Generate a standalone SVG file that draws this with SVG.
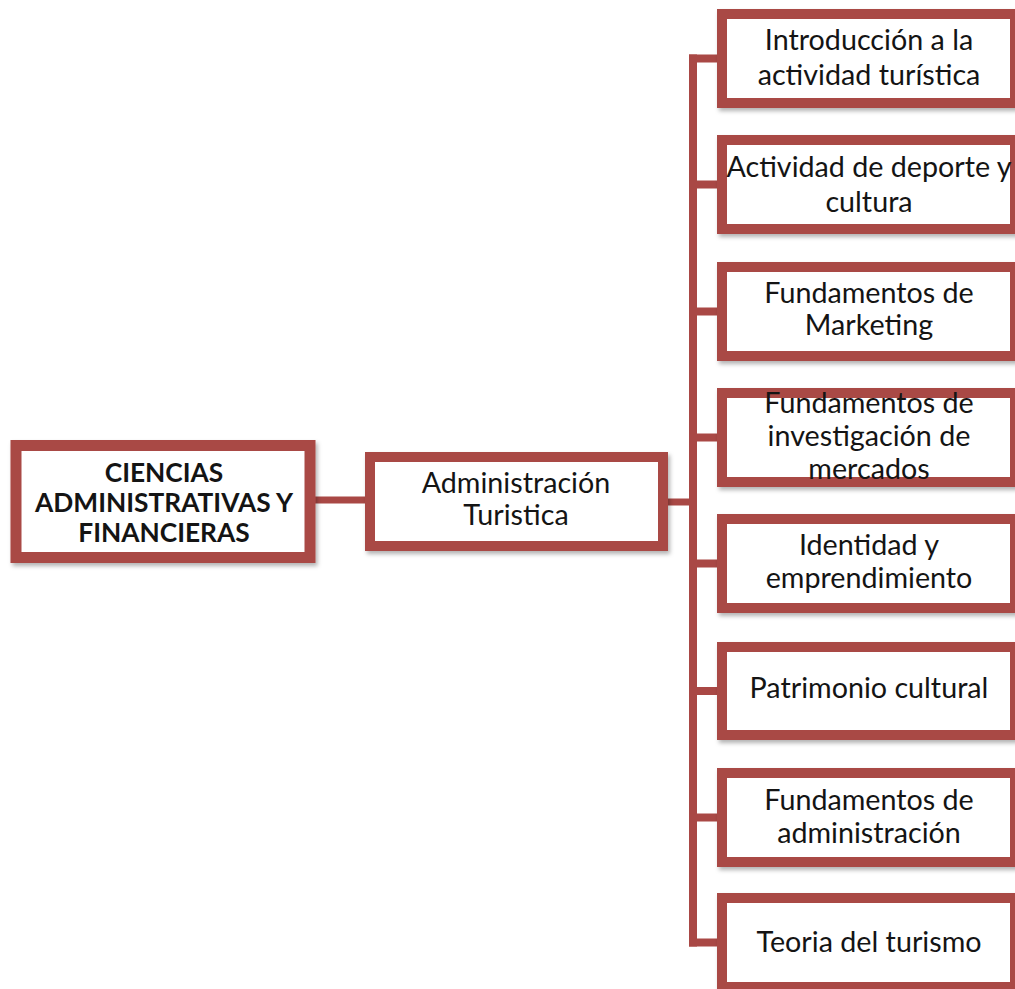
<svg xmlns="http://www.w3.org/2000/svg" width="1015" height="989" viewBox="0 0 1015 989">
<defs>
<filter id="sh" x="-10%" y="-10%" width="130%" height="130%">
<feDropShadow dx="2" dy="3" stdDeviation="2" flood-color="#000" flood-opacity="0.3"/>
</filter>
<style>
.box{fill:#fff;stroke:#A94845;stroke-width:10;filter:url(#sh)}
.ln{stroke:#A94845;stroke-width:8;fill:none}
text{font-family:Lato,"Liberation Sans",sans-serif;font-size:28.7px;fill:#141414;text-anchor:middle}
.b{font-weight:bold;font-size:26.3px}
</style>
</defs>
<rect width="1015" height="989" fill="#fff"/>
<g id="connectors">
<line class="ln" x1="310" y1="500" x2="370" y2="500" style="stroke-width:7"/>
<line class="ln" x1="663" y1="502" x2="693" y2="502" style="stroke-width:7"/>
<line class="ln" x1="693" y1="54.5" x2="693" y2="946.5"/>
<line class="ln" x1="689" y1="58.5" x2="722" y2="58.5"/>
<line class="ln" x1="689" y1="184.5" x2="722" y2="184.5"/>
<line class="ln" x1="689" y1="311.5" x2="722" y2="311.5"/>
<line class="ln" x1="689" y1="437.5" x2="722" y2="437.5"/>
<line class="ln" x1="689" y1="563.5" x2="722" y2="563.5"/>
<line class="ln" x1="689" y1="691" x2="722" y2="691"/>
<line class="ln" x1="689" y1="817.5" x2="722" y2="817.5"/>
<line class="ln" x1="689" y1="942.5" x2="722" y2="942.5"/>
</g>
<g id="root">
<rect class="box" x="16" y="445.5" width="294" height="112" style="stroke-width:11"/>
<text class="b" x="164" y="482">CIENCIAS</text>
<text class="b" x="164" y="512">ADMINISTRATIVAS Y</text>
<text class="b" x="164" y="542">FINANCIERAS</text>
</g>
<g id="admin">
<rect class="box" x="370" y="457" width="293" height="89"/>
<text x="516" y="493">Administración</text>
<text x="516" y="525">Turistica</text>
</g>
<g id="n1">
<rect class="box" x="722" y="14" width="293" height="89"/>
<text x="869" y="50">Introducción a la</text>
<text x="869" y="85">actividad turística</text>
</g>
<g id="n2">
<rect class="box" x="722" y="140" width="293" height="89"/>
<text x="869" y="177">Actividad de deporte y</text>
<text x="869" y="212">cultura</text>
</g>
<g id="n3">
<rect class="box" x="722" y="267" width="293" height="89"/>
<text x="869" y="303">Fundamentos de</text>
<text x="869" y="335">Marketing</text>
</g>
<g id="n4">
<rect class="box" x="722" y="393" width="293" height="89"/>
<text x="869" y="413">Fundamentos de</text>
<text x="869" y="446">investigación de</text>
<text x="869" y="479">mercados</text>
</g>
<g id="n5">
<rect class="box" x="722" y="519" width="293" height="89"/>
<text x="869" y="555">Identidad y</text>
<text x="869" y="588">emprendimiento</text>
</g>
<g id="n6">
<rect class="box" x="722" y="647" width="293" height="88"/>
<text x="869" y="698">Patrimonio cultural</text>
</g>
<g id="n7">
<rect class="box" x="722" y="773" width="293" height="89"/>
<text x="869" y="810">Fundamentos de</text>
<text x="869" y="843">administración</text>
</g>
<g id="n8">
<rect class="box" x="722" y="898" width="293" height="89"/>
<text x="869" y="952">Teoria del turismo</text>
</g>
</svg>
